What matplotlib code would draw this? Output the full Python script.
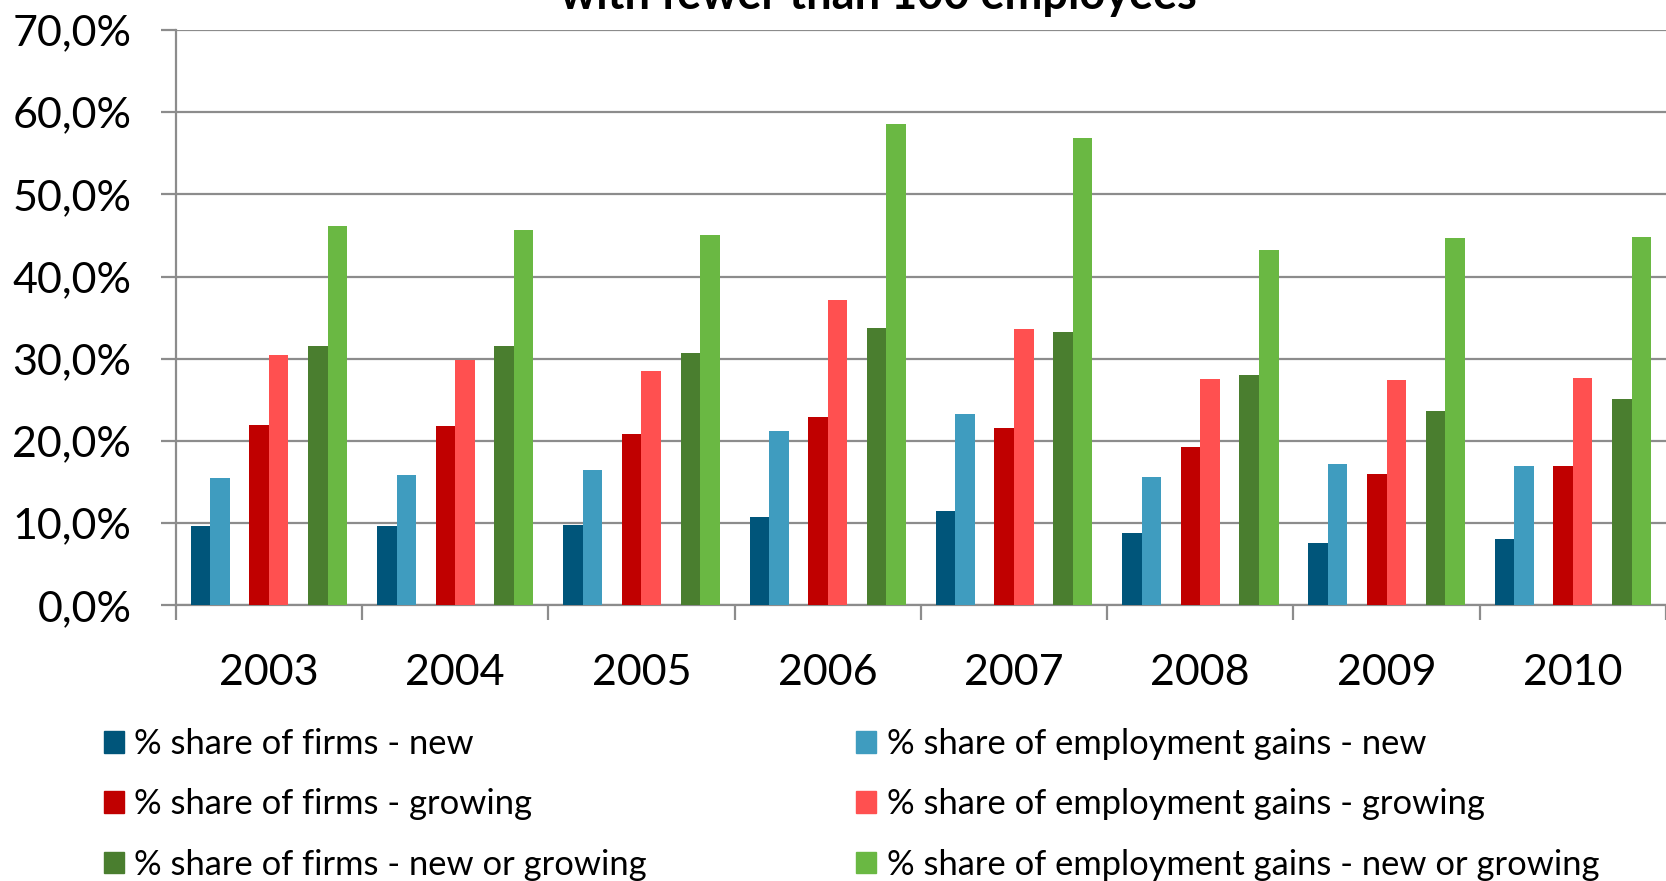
import numpy as np
import matplotlib
matplotlib.use("Agg")
import matplotlib.pyplot as plt
from matplotlib.patches import Patch
from matplotlib.ticker import FuncFormatter, FixedLocator

plt.rcParams['font.family'] = ['Lato', 'DejaVu Sans']

years = ['2003', '2004', '2005', '2006', '2007', '2008', '2009', '2010']

# shares in percent, firms with fewer than 100 employees
firms_new = [9.7, 9.7, 9.8, 10.7, 11.5, 8.8, 7.6, 8.0]
emp_new = [15.5, 15.8, 16.5, 21.2, 23.3, 15.6, 17.2, 17.0]
firms_growing = [21.9, 21.8, 20.8, 22.9, 21.6, 19.2, 16.0, 17.0]
emp_growing = [30.5, 29.8, 28.5, 37.2, 33.6, 27.5, 27.4, 27.7]
firms_new_growing = [31.6, 31.5, 30.7, 33.7, 33.2, 28.0, 23.6, 25.1]
emp_new_growing = [46.1, 45.6, 45.1, 58.5, 56.9, 43.2, 44.7, 44.8]

labels = ['% share of firms - new',
          '% share of employment gains - new',
          '% share of firms - growing',
          '% share of employment gains - growing',
          '% share of firms - new or growing',
          '% share of employment gains - new or growing']
series = [firms_new, emp_new, firms_growing, emp_growing, firms_new_growing, emp_new_growing]
colors = ['#00557A', '#3F9CBF', '#C00000', '#FF5050', '#4A7E2F', '#6AB843']
offsets = [-3.5, -2.5, -0.5, 0.5, 2.5, 3.5]
w = 0.105

fig = plt.figure(figsize=(16.66, 8.81), dpi=100)
ax = fig.add_axes([0.1055, 0.313, 0.8945, 0.653])

x = np.arange(len(years))
for vals, c, off, lab in zip(series, colors, offsets, labels):
    ax.bar(x + off * w, vals, width=w, color=c, label=lab, zorder=3)

grid_c = '#8C8C8C'
ax.set_xlim(-0.5, len(years) - 0.5)
ax.set_ylim(0, 70)
ax.set_yticks(np.arange(0, 71, 10))
ax.yaxis.set_major_formatter(FuncFormatter(lambda v, p: ('%.1f%%' % v).replace('.', ',')))
ax.grid(axis='y', color=grid_c, linewidth=1.6, zorder=0)

# category borders as major ticks, year labels on minor ticks
ax.xaxis.set_major_locator(FixedLocator(np.arange(-0.5, len(years), 1.0)))
ax.xaxis.set_minor_locator(FixedLocator(x))
ax.set_xticklabels([], minor=False)
ax.set_xticklabels(years, minor=True)
ax.tick_params(axis='x', which='major', length=11, width=1.6, color=grid_c)
ax.tick_params(axis='x', which='minor', length=0, pad=35, labelsize=31)
ax.tick_params(axis='y', length=11, width=1.6, color=grid_c, pad=21, labelsize=31)

for s in ['top', 'right']:
    ax.spines[s].set_visible(False)
for s in ['left', 'bottom']:
    ax.spines[s].set_color(grid_c)
    ax.spines[s].set_linewidth(1.6)

fig.text(0.527, 1 - 9 / 881, 'with fewer than 100 employees', ha='center', va='baseline',
         fontsize=32.5, fontweight='bold')

# legend in two columns: firms on the left, employment gains on the right
for idx, xpos in [([0, 2, 4], 0.0624), ([1, 3, 5], 0.514)]:
    handles = [Patch(color=colors[i], label=labels[i]) for i in idx]
    fig.legend(handles=handles, loc='center left', bbox_to_anchor=(xpos, 0.087),
               frameon=False, fontsize=24.8, handlelength=0.58, handleheight=0.58,
               handletextpad=0.3, labelspacing=0.82, borderpad=0, borderaxespad=0)

fig.savefig('out.png', dpi=100)
